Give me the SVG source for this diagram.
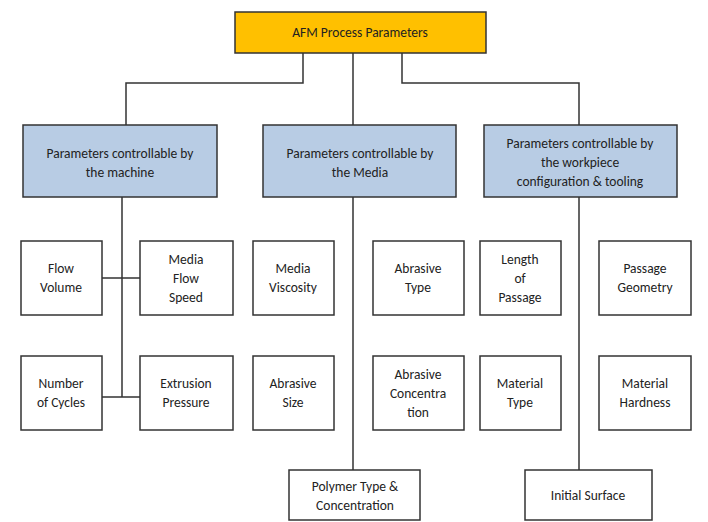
<svg xmlns="http://www.w3.org/2000/svg" width="708" height="522" viewBox="0 0 708 522">
<style>
.b{fill:#fff;stroke:#333;stroke-width:1.5}
.h{fill:#b8cce4;stroke:#333;stroke-width:1.5}
.t{font-family:Calibri,"Liberation Sans",sans-serif;font-size:13.5px;fill:#222;text-anchor:middle}
.c{fill:none;stroke:#333;stroke-width:1.5}
</style>
<rect width="708" height="522" fill="#fff"/>
<g id="connectors">
<path class="c" d="M303 53V83H126V125M353 53V125M402 53V83H579V125M122 197V397M102 278H140M102 397H140M353 197V470M579 197V470"/>
</g>
<g id="root"><rect class="b" x="235" y="12" width="251" height="41" fill="#ffc000" style="fill:#ffc000"/><text class="t" x="360" y="37">AFM Process Parameters</text></g>
<g id="machine"><rect class="h" x="23" y="125" width="194" height="72"/><text class="t" x="120" y="158">Parameters controllable by</text><text class="t" x="120" y="177">the machine</text></g>
<g id="media"><rect class="h" x="263" y="125" width="193" height="72"/><text class="t" x="360" y="158">Parameters controllable by</text><text class="t" x="360" y="177">the Media</text></g>
<g id="workpiece"><rect class="h" x="484" y="125" width="193" height="72"/><text class="t" x="580" y="148">Parameters controllable by</text><text class="t" x="580" y="167">the workpiece</text><text class="t" x="580" y="186">configuration &amp; tooling</text></g>
<g id="flowvol"><rect class="b" x="21" y="241" width="81" height="74"/><text class="t" x="61" y="273">Flow</text><text class="t" x="61" y="292">Volume</text></g>
<g id="flowspeed"><rect class="b" x="140" y="241" width="93" height="74"/><text class="t" x="186" y="264">Media</text><text class="t" x="186" y="283">Flow</text><text class="t" x="186" y="302">Speed</text></g>
<g id="viscosity"><rect class="b" x="253" y="241" width="81" height="74"/><text class="t" x="293" y="273">Media</text><text class="t" x="293" y="292">Viscosity</text></g>
<g id="abrtype"><rect class="b" x="373" y="241" width="91" height="74"/><text class="t" x="418" y="273">Abrasive</text><text class="t" x="418" y="292">Type</text></g>
<g id="length"><rect class="b" x="480" y="241" width="81" height="74"/><text class="t" x="520" y="264">Length</text><text class="t" x="520" y="283">of</text><text class="t" x="520" y="302">Passage</text></g>
<g id="geometry"><rect class="b" x="599" y="241" width="92" height="74"/><text class="t" x="645" y="273">Passage</text><text class="t" x="645" y="292">Geometry</text></g>
<g id="cycles"><rect class="b" x="21" y="356" width="81" height="74"/><text class="t" x="61" y="388">Number</text><text class="t" x="61" y="407">of Cycles</text></g>
<g id="extrusion"><rect class="b" x="140" y="356" width="93" height="74"/><text class="t" x="186" y="388">Extrusion</text><text class="t" x="186" y="407">Pressure</text></g>
<g id="abrsize"><rect class="b" x="253" y="356" width="81" height="74"/><text class="t" x="293" y="388">Abrasive</text><text class="t" x="293" y="407">Size</text></g>
<g id="abrconc"><rect class="b" x="373" y="356" width="91" height="74"/><text class="t" x="418" y="379">Abrasive</text><text class="t" x="418" y="398">Concentra</text><text class="t" x="418" y="417">tion</text></g>
<g id="mattype"><rect class="b" x="480" y="356" width="81" height="74"/><text class="t" x="520" y="388">Material</text><text class="t" x="520" y="407">Type</text></g>
<g id="hardness"><rect class="b" x="599" y="356" width="92" height="74"/><text class="t" x="645" y="388">Material</text><text class="t" x="645" y="407">Hardness</text></g>
<g id="polymer"><rect class="b" x="289" y="470" width="131" height="50"/><text class="t" x="355" y="491">Polymer Type &amp;</text><text class="t" x="355" y="510">Concentration</text></g>
<g id="surface"><rect class="b" x="525" y="470" width="127" height="50"/><text class="t" x="588" y="500">Initial Surface</text></g>
</svg>
